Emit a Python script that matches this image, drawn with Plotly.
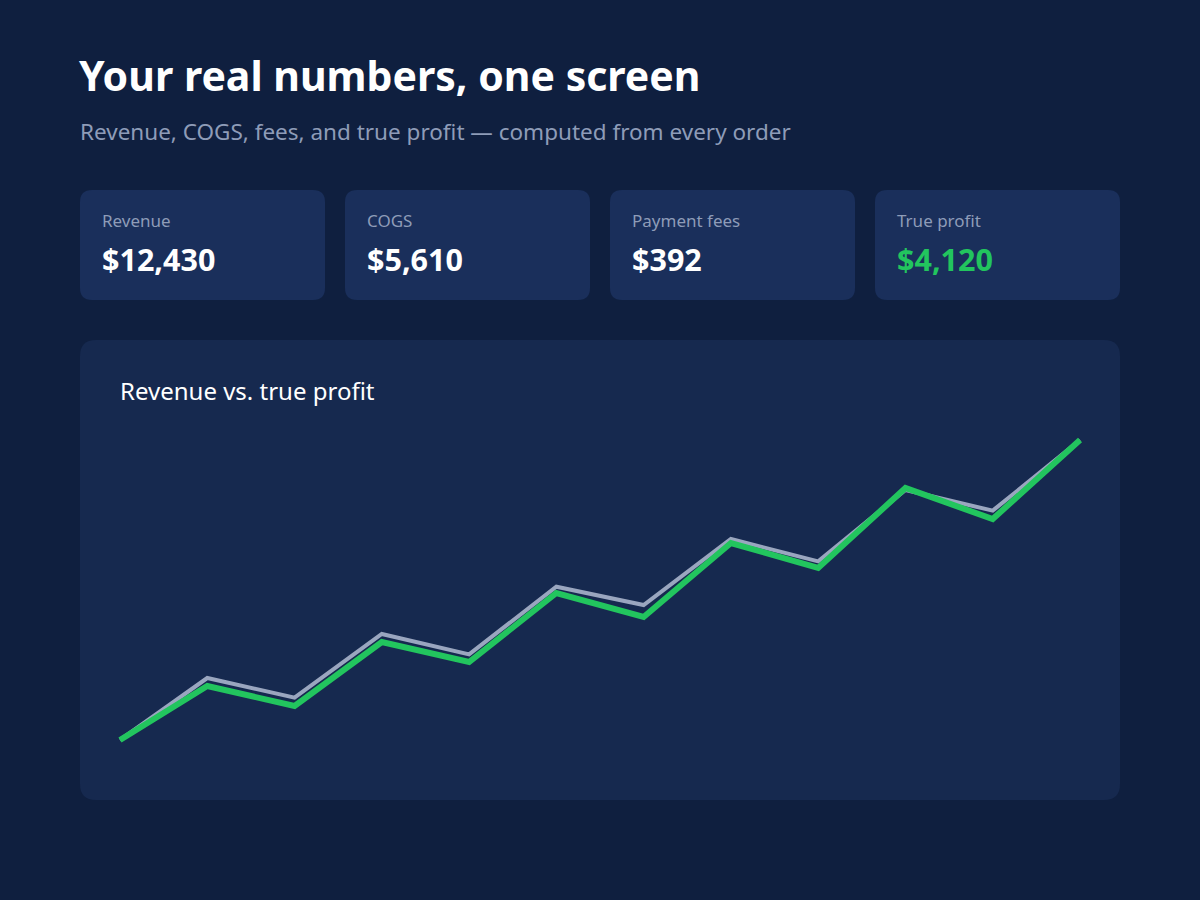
import plotly.graph_objects as go

# ---- data ----
periods = list(range(1, 13))
revenue = [600, 786, 727, 918, 857, 1060, 1005, 1203, 1136, 1350, 1288, 1500]
profit = [204, 258, 238, 302, 282, 351, 327, 401, 376, 456, 425, 504]

card_labels = ["Revenue", "COGS", "Payment fees", "True profit"]
card_values = ["$12,430", "$5,610", "$392", "$4,120"]

# ---- style ----
W, H = 1200, 900
BG = "#0f1f3f"
CARD = "#1a2f5b"
PANEL = "#16294f"
MUTED = "#8e9cb8"
GREEN = "#22c55e"
GRAY = "#9aa6bf"
FONT = "Noto Sans"


def px(x):
    return x / W


def py(y):
    return 1 - y / H


def rounded_rect(x0, y0, x1, y1, r, color):
    p = (f"M {px(x0 + r)},{py(y0)} L {px(x1 - r)},{py(y0)} "
         f"Q {px(x1)},{py(y0)} {px(x1)},{py(y0 + r)} "
         f"L {px(x1)},{py(y1 - r)} Q {px(x1)},{py(y1)} {px(x1 - r)},{py(y1)} "
         f"L {px(x0 + r)},{py(y1)} Q {px(x0)},{py(y1)} {px(x0)},{py(y1 - r)} "
         f"L {px(x0)},{py(y0 + r)} Q {px(x0)},{py(y0)} {px(x0 + r)},{py(y0)} Z")
    return dict(type="path", path=p, xref="paper", yref="paper",
                fillcolor=color, line=dict(width=0), layer="below")


def label(text, x, y, size, color):
    return dict(text=text, x=px(x), y=py(y), xref="paper", yref="paper",
                xanchor="left", yanchor="middle", showarrow=False, borderpad=0,
                font=dict(family=FONT, size=size, color=color))


shapes = []
annotations = []

# header
annotations.append(label("<b>Your real numbers, one screen</b>", 78, 75, 41, "#ffffff"))
annotations.append(label("Revenue, COGS, fees, and true profit — computed from every order",
                         79, 131, 22.5, MUTED))

# cards
card_x = [80, 345, 610, 875]
for i, (lab, val) in enumerate(zip(card_labels, card_values)):
    x0 = card_x[i]
    shapes.append(rounded_rect(x0, 190, x0 + 245, 300, 12, CARD))
    annotations.append(label(lab, x0 + 21, 221, 17, MUTED))
    annotations.append(label(f"<b>{val}</b>", x0 + 21, 259, 30.5,
                             GREEN if i == 3 else "#ffffff"))

# chart panel
shapes.append(rounded_rect(80, 340, 1120, 800, 16, PANEL))
annotations.append(label("Revenue vs. true profit", 119, 390, 24, "#ffffff"))

# axis geometry (pixel box of the data extent)
X0, X1 = 120, 1080
Y_TOP, Y_BOT = 440, 740
xpad = 0.5
xunit = (X1 - X0) / (len(periods) - 1)
xdom = [px(X0 - xpad * xunit), px(X1 + xpad * xunit)]
ypad_px = 20
ydom = [py(Y_BOT + ypad_px), py(Y_TOP - ypad_px)]


def padded(lo, hi):
    per_px = (hi - lo) / (Y_BOT - Y_TOP)
    return [lo - ypad_px * per_px, hi + ypad_px * per_px]


fig = go.Figure()
fig.add_trace(go.Scatter(x=periods, y=revenue, mode="lines", name="Revenue",
                         line=dict(color=GRAY, width=4), yaxis="y", hoverinfo="skip"))
fig.add_trace(go.Scatter(x=periods, y=profit, mode="lines", name="True profit",
                         line=dict(color=GREEN, width=6), yaxis="y2", hoverinfo="skip"))

fig.update_layout(
    width=W, height=H,
    margin=dict(l=0, r=0, t=0, b=0),
    paper_bgcolor=BG, plot_bgcolor="rgba(0,0,0,0)",
    showlegend=False,
    shapes=shapes, annotations=annotations,
    xaxis=dict(domain=xdom, range=[periods[0] - xpad, periods[-1] + xpad], visible=False,
               fixedrange=True),
    yaxis=dict(domain=ydom, range=padded(revenue[0], revenue[-1]), visible=False,
               fixedrange=True),
    yaxis2=dict(domain=ydom, range=padded(profit[0], profit[-1]), visible=False,
                overlaying="y", fixedrange=True),
)

fig.write_html(
    "out.html",
    config={"displayModeBar": False},
    post_script=("document.body.style.margin='0';"
                 "document.body.style.padding='0';"
                 f"document.body.style.background='{BG}';"
                 "document.documentElement.style.overflow='hidden';"),
)
